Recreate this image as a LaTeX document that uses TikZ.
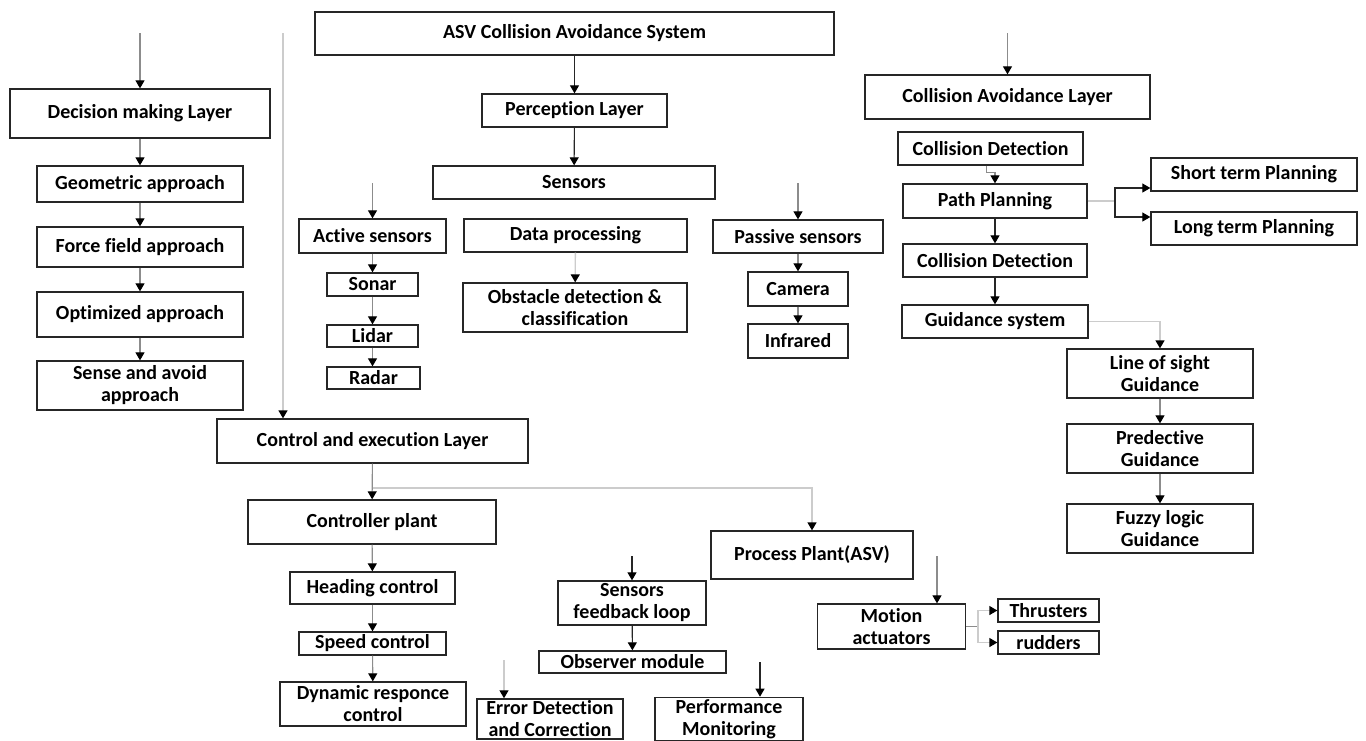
\documentclass[tikz,border=0pt]{standalone}
\usepackage{fontspec}
\setmainfont{Carlito}[Ligatures=NoCommon]
\usepackage{tikz}
\usetikzlibrary{arrows.meta}

\begin{document}
\begin{tikzpicture}%
                    [x=1pt, y=-1pt,
                    box/.style={draw=black!85, line width=1.3pt, fill=white, align=center, inner sep=2pt,
                                font=\fontsize{20}{22}\selectfont\bfseries},
                    tip/.style={-{Triangle[length=8pt, width=9pt, color=black]}},
                    darkline/.style={color=black!85, line width=1.1pt},
                    greyline/.style={color=black!45, line width=1.1pt},
                    paleline/.style={color=black!20, line width=1.3pt}]

                \useasboundingbox (0,0) rectangle (1366,740);
                %%
                %% Top of the tree
                %%
                \node[box, minimum width=519, minimum height=43] (asv) at (574.5, 33.5) {ASV Collision Avoidance System};
                \node[box, minimum width=185, minimum height=33] (perc) at (574.5, 110.5) {Perception Layer};
                \node[box, minimum width=282, minimum height=33] (sens) at (574, 182.5) {Sensors};
                %%
                %% Decision making layer
                %%
                \node[box, minimum width=260, minimum height=49] (dml) at (140, 113.5) {Decision making Layer};
                \node[box, minimum width=206, minimum height=36] (geo) at (140, 184) {Geometric approach};
                \node[box, minimum width=206, minimum height=40] (force) at (140, 247) {Force field approach};
                \node[box, minimum width=206, minimum height=45] (optim) at (140, 314.5) {Optimized approach};
                \node[box, minimum width=206, minimum height=49] (sense) at (140, 385.5) {Sense and avoid\\approach};
                %%
                %% Sensors
                %%
                \node[box, minimum width=147, minimum height=34] (active) at (372.5, 236) {Active sensors};
                \node[box, minimum width=91, minimum height=23] (sonar) at (372.5, 284.5) {Sonar};
                \node[box, minimum width=91, minimum height=22] (lidar) at (372.5, 336) {Lidar};
                \node[box, minimum width=93, minimum height=22] (radar) at (373.5, 378) {Radar};
                \node[box, minimum width=223, minimum height=33] (datap) at (575.5, 235.5) {Data processing};
                \node[box, minimum width=224, minimum height=49] (obst) at (575, 307.5) {Obstacle detection \&\\classification};
                \node[box, minimum width=170, minimum height=33] (passive) at (798, 236.5) {Passive sensors};
                \node[box, minimum width=100, minimum height=34] (camera) at (798, 289) {Camera};
                \node[box, minimum width=100, minimum height=34] (infra) at (798, 341) {Infrared};
                %%
                %% Collision avoidance layer
                %%
                \node[box, minimum width=285, minimum height=44] (cal) at (1007.5, 97) {Collision Avoidance Layer};
                \node[box, minimum width=185, minimum height=33] (cdA) at (990.5, 148.5) {Collision Detection};
                \node[box, minimum width=184, minimum height=34] (pp) at (995, 201) {Path Planning};
                \node[box, minimum width=184, minimum height=33] (cdB) at (995, 260.5) {Collision Detection};
                \node[box, minimum width=186, minimum height=33] (guid) at (995, 321.5) {Guidance system};
                \node[box, minimum width=206, minimum height=33] (shortp) at (1254, 174.5) {Short term Planning};
                \node[box, minimum width=206, minimum height=33] (longp) at (1254, 228.5) {Long term Planning};
                \node[box, minimum width=186, minimum height=49] (los) at (1160, 373.5) {Line of sight\\Guidance};
                \node[box, minimum width=186, minimum height=49] (pred) at (1160, 448.5) {Predective\\Guidance};
                \node[box, minimum width=186, minimum height=49] (fuzzy) at (1160, 528.5) {Fuzzy logic\\Guidance};
                %%
                %% Control and execution layer
                %%
                \node[box, minimum width=311, minimum height=44] (ctrl) at (372.5, 441) {Control and execution Layer};
                \node[box, minimum width=248, minimum height=44] (cplant) at (372, 522) {Controller plant};
                \node[box, minimum width=165, minimum height=32] (head) at (372.5, 588) {Heading control};
                \node[box, minimum width=147, minimum height=23] (speed) at (372.5, 643.5) {Speed control};
                \node[box, minimum width=186, minimum height=44] (dyn) at (373, 704) {Dynamic responce\\control};
                \node[box, minimum width=202, minimum height=48] (proc) at (812, 555) {Process Plant(ASV)};
                \node[box, minimum width=148, minimum height=44] (sfb) at (632, 603) {Sensors\\feedback loop};
                \node[box, minimum width=187, minimum height=22] (obs) at (632.5, 662) {Observer module};
                \node[box, minimum width=146, minimum height=40] (err) at (550, 719) {Error Detection\\and Correction};
                \node[box, minimum width=148, minimum height=40] (perf) at (729, 719) {Performance\\Monitoring};
                \node[box, minimum width=148, minimum height=45] (motion) at (891.5, 626.5) {Motion\\actuators};
                \node[box, minimum width=101, minimum height=23] (thr) at (1048.5, 610.5) {Thrusters};
                \node[box, minimum width=101, minimum height=23] (rud) at (1048.5, 642.5) {rudders};
                %%
                %% Free ends and forks
                %%
                \coordinate (dmlin) at (140, 33);
                \coordinate (ctrlin) at (283, 33);
                \coordinate (activein) at (372.5, 183);
                \coordinate (passivein) at (798, 183);
                \coordinate (calin) at (1007.5, 33);
                \coordinate (ppfork) at (1115, 201);
                \coordinate (cfork) at (372.5, 488);
                \coordinate (sfbin) at (632, 556);
                \coordinate (errin) at (504, 660);
                \coordinate (perfin) at (760, 662);
                \coordinate (motionin) at (937, 556);
                \coordinate (mfork) at (978, 626.5);
                %%
                %% Connectors
                %%
                \draw[greyline,tip] (dmlin) -- (dml);
                \draw[greyline,tip] (dml) -- (geo);
                \draw[greyline,tip] (geo) -- (force);
                \draw[greyline,tip] (force) -- (optim);
                \draw[greyline,tip] (optim) -- (sense);
                \draw[paleline,tip] (ctrlin) -- (ctrlin |- ctrl.north);
                \draw[darkline,tip] (asv) -- (perc);
                \draw[darkline,tip] (perc) -- (sens);
                \draw[greyline,tip] (activein) -- (active);
                \draw[greyline,tip] (active) -- (sonar);
                \draw[greyline,tip] (sonar) -- (lidar);
                \draw[greyline,tip] (lidar) -- (radar.north -| lidar.south);
                \draw[paleline,tip] (datap) -- (obst);
                \draw[greyline,tip] (passivein) -- (passive);
                \draw[greyline,tip] (passive) -- (camera);
                \draw[greyline,tip] (camera) -- (infra);
                \draw[greyline,tip] (calin) -- (cal);
                \draw[greyline,tip] ([xshift=-4pt]cdA.south) -- ++(0,7) -| (pp.north);
                \draw[darkline,tip] (pp) -- (cdB);
                \draw[darkline,tip] (cdB) -- (guid);
                \draw[paleline] (pp.east) -- (ppfork);
                \draw[darkline,tip] (ppfork) |- ([yshift=-13.5pt]shortp.west);
                \draw[darkline,tip] (ppfork) |- ([yshift=11.5pt]longp.west);
                \draw[paleline,tip] (guid.east) -| (los.north);
                \draw[greyline,tip] (los) -- (pred);
                \draw[greyline,tip] (pred) -- (fuzzy);
                \draw[greyline,tip] (ctrl) -- (cplant);
                \draw[paleline,tip] (cfork) -| (proc.north);
                \draw[greyline,tip] (cplant) -- (head);
                \draw[greyline,tip] (head) -- (speed);
                \draw[greyline,tip] (speed) -- (dyn);
                \draw[darkline,tip] (sfbin) -- (sfb);
                \draw[darkline,tip] (sfb) -- (obs);
                \draw[paleline,tip] (errin) -- (errin |- err.north);
                \draw[darkline,tip] (perfin) -- (perfin |- perf.north);
                \draw[greyline,tip] (motionin) -- (motionin |- motion.north);
                \draw[greyline] (motion.east) -- (mfork);
                \draw[paleline,tip] (mfork) |- (thr.west);
                \draw[paleline,tip] (mfork) |- (rud.west);
                %%
                %%
\end{tikzpicture}
\end{document}
